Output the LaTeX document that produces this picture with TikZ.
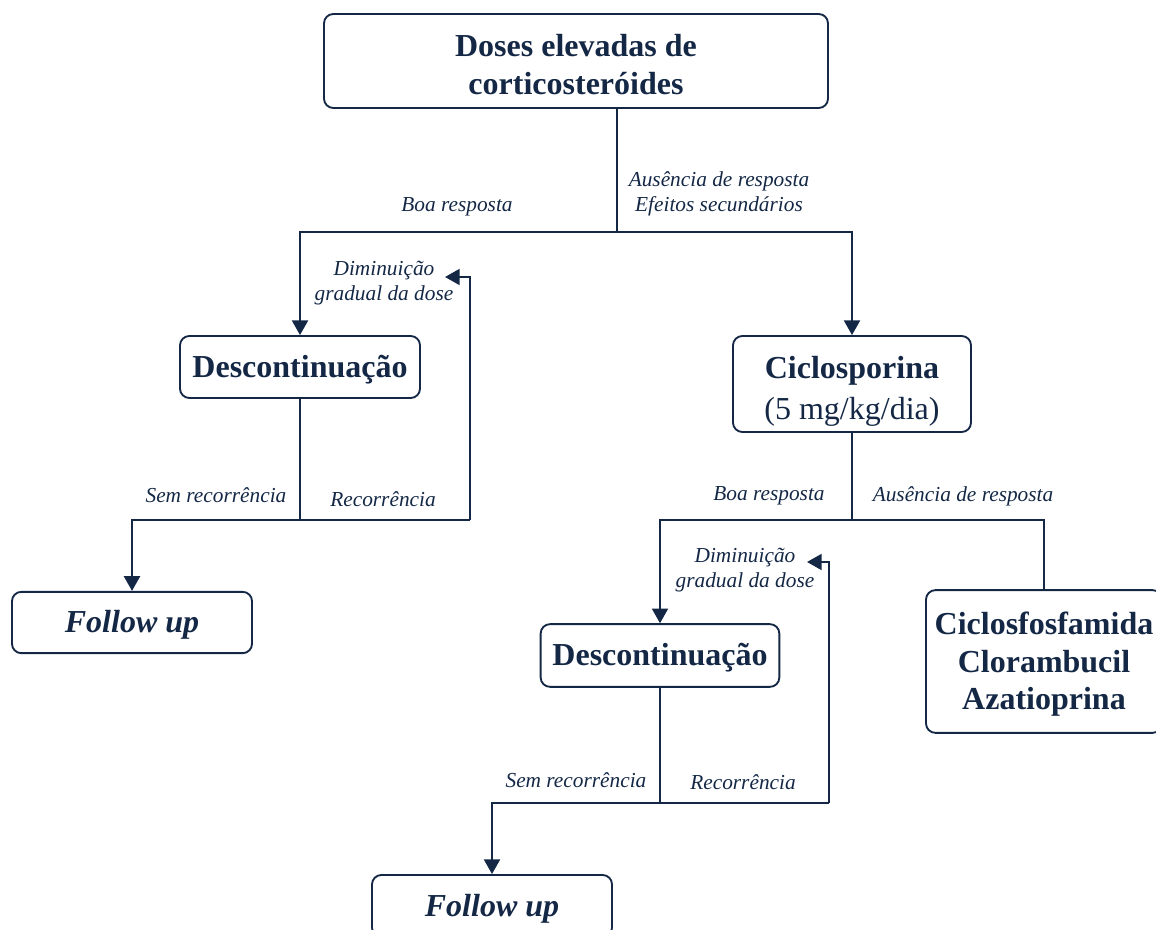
\documentclass[tikz,border=0pt]{standalone}
\usepackage{fontspec}
\setmainfont{Liberation Serif}
\usetikzlibrary{arrows.meta}
\definecolor{navy}{RGB}{20,40,70}
\newcommand{\lowertext}{\rule{0pt}{23pt}}
\tikzset{%
  stepbox/.style  = {shape=rectangle, rounded corners=7pt,%
                     draw=navy, line width=1.4pt, align=center,%
                     text=navy, inner sep=0pt, text depth=1pt,%
                     font=\fontsize{24}{28}\selectfont\bfseries},%
  endbox/.style   = {stepbox, font=\fontsize{24}{28}\selectfont\bfseries\itshape},%
  answer/.style   = {text=navy, align=center, inner sep=0pt,%
                     font=\fontsize{16}{19}\selectfont\itshape},%
  link/.style     = {draw=navy, line width=1.5pt},%
  arrowlink/.style = {link, -{Triangle[width=12pt,length=11pt]}}%
}

\begin{document}
\begin{tikzpicture}[x=0.75pt,y=-0.75pt]
		\useasboundingbox (0,0) rectangle (1156,930);
		\clip (0,0) rectangle (1156,930);
		\node [stepbox, minimum width=378pt, minimum height=70.5pt] (cortico) at (576,61) {\lowertext Doses elevadas de\\corticosteróides};
		\node [stepbox, minimum width=180pt, minimum height=46.5pt] (descont1) at (300,367) {Descontinuação};
		\node [endbox, minimum width=180pt, minimum height=46pt] (follow1) at (132,622.5) {Follow up};
		\node [stepbox, minimum width=178.5pt, minimum height=72pt] (ciclo) at (852,384) {\lowertext Ciclosporina\\[3pt]{\mdseries(5 mg/kg/dia)}};
		\node [stepbox, minimum width=179pt, minimum height=47pt] (descont2) at (660,655.5) {Descontinuação};
		\node [endbox, minimum width=180pt, minimum height=46.5pt] (follow2) at (492,906) {Follow up};
		\node [stepbox, minimum width=177pt, minimum height=107pt] (alquil) at (1044,661.5) {Ciclosfosfamida\\Clorambucil\\Azatioprina};
		\node [answer] (boa1) at (457,207) {Boa resposta};
		\node [answer] (ausencia1) at (719,194) {Ausência de resposta\\Efeitos secundários};
		\node [answer] (dimin1) at (384,283) {Diminuição\\gradual da dose};
		\node [answer] (sem1) at (216,495) {Sem recorrência};
		\node [answer] (recor1) at (383,499) {Recorrência};
		\node [answer] (boa2) at (769,496) {Boa resposta};
		\node [answer] (ausencia2) at (963,496) {Ausência de resposta};
		\node [answer] (dimin2) at (745,570) {Diminuição\\gradual da dose};
		\node [answer] (sem2) at (576,780) {Sem recorrência};
		\node [answer] (recor2) at (743,782) {Recorrência};
		\coordinate (split) at (617,232);
		\coordinate (fork1) at (300,520);
		\coordinate (back1) at (470,520);
		\coordinate (tip1) at (445,277);
		\coordinate (fork2) at (852,520);
		\coordinate (fork3) at (660,803);
		\coordinate (back2) at (829,803);
		\coordinate (tip2) at (807,562);
		\draw [link] (cortico.south -| split) -- (split);
		\draw [arrowlink] (split) -| (descont1.north);
		\draw [arrowlink] (split) -| (ciclo.north);
		\draw [link] (descont1.south) -- (fork1);
		\draw [arrowlink] (fork1) -| (follow1.north);
		\draw [link] (fork1) -- (back1);
		\draw [arrowlink] (back1) |- (tip1);
		\draw [link] (ciclo.south) -- (fork2);
		\draw [arrowlink] (fork2) -| (descont2.north);
		\draw [link] (fork2) -| (alquil.north);
		\draw [link] (descont2.south) -- (fork3);
		\draw [arrowlink] (fork3) -| (follow2.north);
		\draw [link] (fork3) -- (back2);
		\draw [arrowlink] (back2) |- (tip2);
	\end{tikzpicture}
\end{document}
